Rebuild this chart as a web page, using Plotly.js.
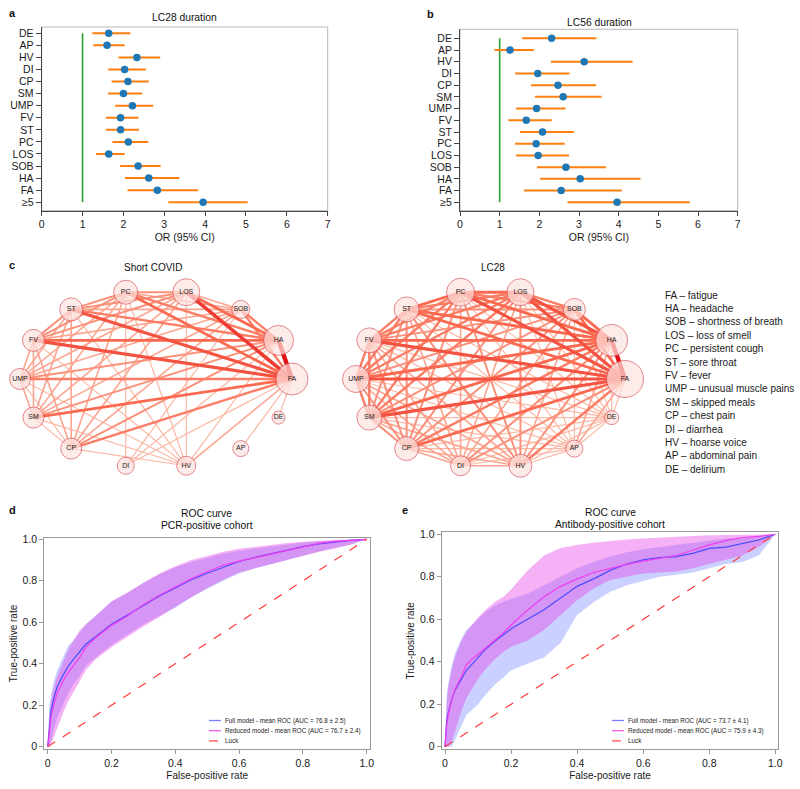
<!DOCTYPE html>
<html><head><meta charset="utf-8">
<script src="https://cdn.plot.ly/plotly-3.0.1.min.js"></script>
<style>html,body{margin:0;padding:0;background:#fff}#chart{width:800px;height:789px}</style>
</head><body><div id="chart"></div>
<script>
// ---------- Panels a / b : odds ratios ----------
const symptoms = ['DE','AP','HV','DI','CP','SM','UMP','FV','ST','PC','LOS','SOB','HA','FA','≥5'];
const lc28OR = [1.64,1.60,2.33,2.03,2.11,2.00,2.22,1.93,1.93,2.12,1.64,2.36,2.62,2.83,3.95];
const lc28Lo = [1.24,1.26,1.88,1.63,1.71,1.62,1.80,1.57,1.57,1.73,1.33,1.92,2.04,2.10,3.10];
const lc28Hi = [2.17,2.03,2.90,2.55,2.62,2.46,2.73,2.37,2.38,2.61,2.03,2.91,3.37,3.83,5.04];
const lc56OR = [2.31,1.26,3.13,1.96,2.47,2.60,1.93,1.67,2.08,1.92,1.97,2.67,3.03,2.55,3.96];
const lc56Lo = [1.57,0.87,2.29,1.39,1.79,1.89,1.41,1.22,1.51,1.39,1.41,1.94,2.02,1.61,2.71];
const lc56Hi = [3.44,1.86,4.35,2.76,3.43,3.57,2.66,2.31,2.87,2.64,2.75,3.68,4.55,4.08,5.79];
const refOR = 1;

// ---------- Panel c : symptom networks ----------
const nodeCodes = ['FA','HA','SOB','LOS','PC','ST','FV','UMP','SM','CP','DI','HV','AP','DE'];
const nodeNames = ['fatigue','headache','shortness of breath','loss of smell','persistent cough','sore throat','fever','unusual muscle pains','skipped meals','chest pain','diarrhea','hoarse voice','abdominal pain','delirium'];
const shortSize = [32,30,18,27,24,23,22,21,21,21,17,19,16,13];
const lc28Size  = [37,32,22,27,28,25,25,27,25,24,20,23,17,14];
// upper-triangle edge strengths, row i -> nodes i+1..13
const shortW = [
  [5,2.5,4,3,3.5,3.5,2.5,3,2.5,1,1.5,1,1],
  [2.5,3,2.5,2.5,3,2,2,2,1,1,0,0],
  [1.5,1.5,1.5,1.5,1.5,1.5,1.5,1,0,0,0],
  [2,2,2,1.5,1.5,1.5,0,1,0,0],
  [2,2,1.5,1.5,1.5,1,1,0,0],
  [2,1.5,1.5,1.5,0,1,0,0],
  [1.5,1.5,1.5,0,1,0,0],
  [1.5,1,0,1,0,0],
  [1,0,1,0,0],
  [0,1,0,0],
  [0,0,0],
  [0,0],
  [0]
];
const lc28W = [
  [5,3,3.5,3.5,3,3.5,3.5,3.5,3,2,2.5,1.5,1],
  [3,3.5,3,3,3,3,3,2.5,2,2,1.5,1],
  [2.5,2.5,2,2,2,2,2,1.5,1.5,1,1],
  [3,2.5,2.5,2.5,2.5,2,1.5,2,1,1],
  [3,2.5,2.5,2.5,2,1.5,2,1,1],
  [2.5,2.5,2,2,1.5,2,1,1],
  [2.5,2.5,2,1.5,1.5,1,1],
  [2.5,2,1.5,1.5,1,1],
  [2,1.5,1.5,1,1],
  [1.5,1.5,1,1],
  [1.5,1,1],
  [1,1],
  [1]
];

// ---------- Panels d / e : ROC curves ----------
const dFpr = [0,0.005,0.01,0.02,0.03,0.05,0.065,0.08,0.1,0.12,0.15,0.2,0.25,0.3,0.35,0.4,0.45,0.5,0.55,0.6,0.65,0.7,0.75,0.8,0.85,0.9,0.95,1];
const dFullMean = [0,0.1,0.17,0.24,0.29,0.35,0.39,0.42,0.46,0.495,0.53,0.59,0.635,0.683,0.727,0.765,0.805,0.836,0.866,0.893,0.913,0.93,0.948,0.965,0.978,0.988,0.995,1];
const dFullUp   = [0,0.2,0.25,0.32,0.37,0.44,0.49,0.51,0.55,0.59,0.63,0.7,0.74,0.79,0.83,0.865,0.89,0.91,0.93,0.945,0.955,0.965,0.975,0.985,0.99,0.995,0.998,1];
const dFullLo   = [0,0,0.03,0.09,0.14,0.21,0.26,0.3,0.34,0.39,0.43,0.49,0.54,0.59,0.63,0.67,0.72,0.76,0.8,0.835,0.86,0.88,0.9,0.92,0.94,0.96,0.975,1];
const dRedMean  = [0,0.08,0.14,0.21,0.26,0.32,0.36,0.39,0.43,0.48,0.525,0.585,0.63,0.685,0.73,0.77,0.81,0.845,0.875,0.895,0.912,0.93,0.948,0.966,0.98,0.99,0.996,1];
const dRedUp    = [0,0.15,0.21,0.29,0.34,0.42,0.47,0.51,0.56,0.59,0.63,0.7,0.745,0.79,0.835,0.87,0.9,0.92,0.94,0.955,0.965,0.975,0.982,0.988,0.993,0.997,0.999,1];
const dRedLo    = [0,0,0.01,0.05,0.1,0.17,0.22,0.26,0.31,0.37,0.42,0.48,0.53,0.58,0.625,0.675,0.72,0.765,0.805,0.84,0.86,0.88,0.9,0.92,0.94,0.955,0.975,1];

const eFpr = [0,0.005,0.01,0.02,0.03,0.05,0.065,0.08,0.1,0.12,0.15,0.18,0.2,0.25,0.3,0.35,0.4,0.45,0.5,0.55,0.6,0.65,0.7,0.75,0.8,0.85,0.9,0.95,1];
const eFullMean = [0,0.12,0.16,0.22,0.265,0.32,0.36,0.385,0.42,0.455,0.495,0.53,0.555,0.6,0.645,0.7,0.755,0.79,0.83,0.86,0.88,0.89,0.895,0.91,0.934,0.94,0.958,0.973,1];
const eFullUp   = [0,0.25,0.3,0.38,0.44,0.51,0.55,0.57,0.6,0.63,0.665,0.685,0.695,0.72,0.76,0.8,0.84,0.87,0.895,0.915,0.93,0.94,0.95,0.96,0.97,0.98,0.985,0.99,1];
const eFullLo   = [0,0,0,0,0.03,0.1,0.15,0.17,0.2,0.24,0.29,0.33,0.36,0.39,0.42,0.49,0.62,0.68,0.73,0.76,0.78,0.8,0.81,0.82,0.84,0.86,0.87,0.9,1];
const eRedMean  = [0,0.1,0.15,0.22,0.27,0.33,0.385,0.41,0.435,0.46,0.5,0.54,0.573,0.644,0.706,0.755,0.79,0.82,0.84,0.858,0.874,0.888,0.9,0.925,0.95,0.97,0.985,0.99,1];
const eRedUp    = [0,0.2,0.28,0.36,0.42,0.5,0.54,0.57,0.61,0.64,0.68,0.71,0.74,0.83,0.9,0.935,0.95,0.96,0.968,0.975,0.98,0.985,0.99,0.992,0.995,0.997,0.998,0.999,1];
const eRedLo    = [0,0,0,0.02,0.07,0.17,0.23,0.27,0.32,0.36,0.41,0.45,0.47,0.5,0.55,0.62,0.69,0.745,0.785,0.8,0.815,0.82,0.825,0.84,0.86,0.88,0.9,0.94,1];
const luck = [0,1];
const dLegend = ['Full model - mean ROC (AUC = 76.8 ± 2.5)','Reduced model - mean ROC (AUC = 76.7 ± 2.4)','Luck'];
const eLegend = ['Full model - mean ROC (AUC = 73.7 ± 4.1)','Reduced model - mean ROC (AUC = 75.9 ± 4.3)','Luck'];

// ---------- helpers ----------
const W = 800, H = 789;
const FONT = 'Liberation Sans, Arial, Helvetica, sans-serif';
const fx = p => p / W;
const fy = p => 1 - p / H;
const traces = [];
const shapes = [];
const annotations = [];

function orPanel(xa, ya, or, lo, hi) {
  traces.push({x:[refOR,refOR], y:[symptoms[0], symptoms[symptoms.length-1]], xaxis:xa, yaxis:ya,
    mode:'lines', line:{color:'#2ca02c', width:1.6}, showlegend:false, hoverinfo:'skip'});
  traces.push({x:or, y:symptoms, xaxis:xa, yaxis:ya, mode:'markers', showlegend:false,
    marker:{color:'#1f77b4', size:7.5},
    error_x:{type:'data', symmetric:false, array:hi.map((h,i)=>h-or[i]), arrayminus:lo.map((l,i)=>or[i]-l),
      color:'#ff7f0e', thickness:2, width:0}});
}
orPanel('x','y',lc28OR,lc28Lo,lc28Hi);
orPanel('x2','y2',lc56OR,lc56Lo,lc56Hi);

function edgeColor(w){
  const t = Math.max(0, Math.min(1, (w-1)/4));
  const a=[252,185,165], b=[250,105,80], c=[225,15,20];
  let p,q,s;
  if (t<0.5){p=a;q=b;s=t/0.5;} else {p=b;q=c;s=(t-0.5)/0.5;}
  const m = p.map((v,i)=>Math.round(v+(q[i]-v)*s));
  return 'rgb('+m.join(',')+')';
}
function network(xa, ya, weights, sizes) {
  const n = nodeCodes.length;
  const ang = nodeCodes.map((_,k)=>2*Math.PI*k/n);
  const nx = ang.map(a=>Math.cos(a)), ny = ang.map(a=>Math.sin(a));
  const edges = [];
  weights.forEach((row,i)=>row.forEach((w,k)=>{ if (w>0) edges.push([i,i+1+k,w]); }));
  edges.sort((p,q)=>p[2]-q[2]);
  edges.forEach(([i,j,w])=>{
    traces.push({x:[nx[i],nx[j]], y:[ny[i],ny[j]], xaxis:xa, yaxis:ya, mode:'lines',
      line:{color:edgeColor(w), width:0.4+0.8*w}, showlegend:false, hoverinfo:'skip'});
  });
  traces.push({x:nx, y:ny, xaxis:xa, yaxis:ya, mode:'markers+text', text:nodeCodes,
    textposition:'middle center', textfont:{size:7, color:'#222', family:FONT},
    marker:{size:sizes, color:'#fde3e0', line:{color:'#d9545c', width:1}}, showlegend:false, cliponaxis:false});
}
network('x3','y3',shortW,shortSize);
network('x4','y4',lc28W,lc28Size);

function rocPanel(xa, ya, fpr, fm, fu, fl, rm, ru, rl) {
  traces.push({x:fpr, y:fl, xaxis:xa, yaxis:ya, mode:'lines', line:{width:0}, showlegend:false, hoverinfo:'skip'});
  traces.push({x:fpr, y:fu, xaxis:xa, yaxis:ya, mode:'lines', line:{width:0}, fill:'tonexty',
    fillcolor:'rgba(80,100,255,0.30)', showlegend:false, hoverinfo:'skip'});
  traces.push({x:fpr, y:rl, xaxis:xa, yaxis:ya, mode:'lines', line:{width:0}, showlegend:false, hoverinfo:'skip'});
  traces.push({x:fpr, y:ru, xaxis:xa, yaxis:ya, mode:'lines', line:{width:0}, fill:'tonexty',
    fillcolor:'rgba(230,60,230,0.40)', showlegend:false, hoverinfo:'skip'});
  traces.push({x:fpr, y:fm, xaxis:xa, yaxis:ya, mode:'lines', line:{color:'#4b4bff', width:1.2}, showlegend:false});
  traces.push({x:fpr, y:rm, xaxis:xa, yaxis:ya, mode:'lines', line:{color:'#f03cf0', width:1.2}, showlegend:false});
  traces.push({x:luck, y:luck, xaxis:xa, yaxis:ya, mode:'lines', line:{color:'#ff3a3a', width:1.2, dash:'dash'}, showlegend:false});
}
rocPanel('x5','y5',dFpr,dFullMean,dFullUp,dFullLo,dRedMean,dRedUp,dRedLo);
rocPanel('x6','y6',eFpr,eFullMean,eFullUp,eFullLo,eRedMean,eRedUp,eRedLo);

// manual ROC legends
function rocLegend(x0, texts, yTop) {
  const cols = ['#7a7aff','#f060f0','#ff5050'];
  texts.forEach((t,i)=>{
    const y = yTop + i*10.2;
    shapes.push({type:'line', xref:'paper', yref:'paper', x0:fx(x0), x1:fx(x0+12), y0:fy(y), y1:fy(y),
      line:{color:cols[i], width:1.3, dash: i===2?'dash':'solid'}});
    annotations.push({xref:'paper', yref:'paper', x:fx(x0+14), y:fy(y), text:t, showarrow:false,
      xanchor:'left', yanchor:'middle', font:{size:6.3, color:'#222', family:FONT}});
  });
}
rocLegend(209, dLegend, 720.5);
rocLegend(612, eLegend, 720.5);

// network legend
nodeCodes.forEach((c,i)=>{
  annotations.push({xref:'paper', yref:'paper', x:fx(662.5), y:fy(295+i*13.4), text:c+' – '+nodeNames[i],
    showarrow:false, xanchor:'left', yanchor:'middle', font:{size:10, color:'#1a1a1a', family:FONT}});
});

// titles & panel letters
const txt = (x,y,t,size,bold)=>annotations.push({xref:'paper',yref:'paper',x:fx(x),y:fy(y),text:bold?'<b>'+t+'</b>':t,
  showarrow:false,xanchor:'center',yanchor:'middle',font:{size:size,color:'#111',family:FONT}});
txt(184.7,17.5,'LC28 duration',10.3);
txt(599,22.5,'LC56 duration',10.3);
txt(152.7,268,'Short COVID',10);
txt(493,267,'LC28',10);
txt(207,513.3,'ROC curve',10.3);
txt(207,525.3,'PCR-positive cohort',10.3);
txt(610,512.7,'ROC curve',10.3);
txt(610,524.7,'Antibody-positive cohort',10.3);
txt(12,12.5,'a',11,true);
txt(431,14,'b',11,true);
txt(12,265,'c',11,true);
txt(12,510,'d',11,true);
txt(405,510,'e',11,true);

// frames for a/b
['x','x2'].forEach((xa,i)=>{
  const ya = i? 'y2':'y';
  shapes.push({type:'rect', xref:xa+' domain', yref:ya+' domain', x0:0, x1:1, y0:0, y1:1,
    line:{color:'#b8b8b8', width:1}, layer:'below'});
});

const tf = {size:10.5, color:'#1a1a1a', family:FONT};
const orX = (d)=>({domain:d, range:[0,7], dtick:1, tick0:0, ticks:'outside', ticklen:4, tickcolor:'#444',
  showline:true, linecolor:'#444', linewidth:1, showgrid:false, zeroline:false, tickfont:tf,
  title:{text:'OR (95% CI)', font:{size:10.5, color:'#1a1a1a', family:FONT}, standoff:4}});
const orY = (d, r)=>({domain:d, type:'category', categoryorder:'array', categoryarray:symptoms.slice().reverse(),
  tickmode:'array', tickvals:symptoms, ticktext:symptoms,
  range:r, ticks:'outside', ticklen:5, tickcolor:'#444', showline:true, linecolor:'#444', showgrid:false,
  zeroline:false, tickfont:tf});
const rocTicks = [0,0.2,0.4,0.6,0.8,1];
const rocText = ['0','0.2','0.4','0.6','0.8','1.0'];
const rocX = (d,r)=>({domain:d, range:r, tickvals:rocTicks, ticktext:rocText, ticks:'outside', ticklen:4,
  tickcolor:'#999', showline:true, mirror:true, linecolor:'#999', showgrid:false, zeroline:false,
  tickfont:{size:10.5,color:'#1a1a1a',family:FONT},
  title:{text:'False-positive rate', font:{size:10,color:'#1a1a1a',family:FONT}, standoff:4}});
const rocY = (d,r)=>({domain:d, range:r, tickvals:rocTicks, ticktext:rocText, ticks:'outside', ticklen:4,
  tickcolor:'#999', showline:true, mirror:true, linecolor:'#999', showgrid:false, zeroline:false,
  tickfont:{size:10.5,color:'#1a1a1a',family:FONT},
  title:{text:'True-positive rate', font:{size:10,color:'#1a1a1a',family:FONT}, standoff:3}});

const layout = {
  width:W, height:H, margin:{l:0,r:0,t:0,b:0}, paper_bgcolor:'#fff', plot_bgcolor:'rgba(0,0,0,0)',
  font:{family:FONT, color:'#1a1a1a'}, showlegend:false,
  xaxis: Object.assign(orX([fx(41.7),fx(327.7)]), {anchor:'y'}),
  yaxis: Object.assign(orY([fy(210.7),fy(27)],[-0.7,14.52]), {anchor:'x'}),
  xaxis2: Object.assign(orX([fx(460),fx(737.7)]), {anchor:'y2'}),
  yaxis2: Object.assign(orY([fy(210.7),fy(29.3)],[-0.72,14.77]), {anchor:'x2'}),
  xaxis3: {domain:[fx(6.4),fx(305.6)], range:[-1.1,1.1], visible:false, anchor:'y3'},
  yaxis3: {domain:[fy(485.8),fy(272.2)], range:[-1.2,1.2], visible:false, anchor:'x3'},
  xaxis4: {domain:[fx(342.55),fx(638.45)], range:[-1.1,1.1], visible:false, anchor:'y4'},
  yaxis4: {domain:[fy(485.8),fy(272.2)], range:[-1.2,1.2], visible:false, anchor:'x4'},
  xaxis5: Object.assign(rocX([fx(44.3),fx(370)],[-0.0107,1.0103]), {anchor:'y5'}),
  yaxis5: Object.assign(rocY([fy(749.3),fy(537.7)],[-0.0125,1.0077]), {anchor:'x5'}),
  xaxis6: Object.assign(rocX([fx(441.7),fx(778.3)],[-0.01,1.0091]), {anchor:'y6'}),
  yaxis6: Object.assign(rocY([fy(749.3),fy(532.3)],[-0.0122,1.0094]), {anchor:'x6'}),
  shapes:shapes, annotations:annotations
};
Plotly.newPlot('chart', traces, layout, {displayModeBar:false, staticPlot:true});
</script></body></html>
